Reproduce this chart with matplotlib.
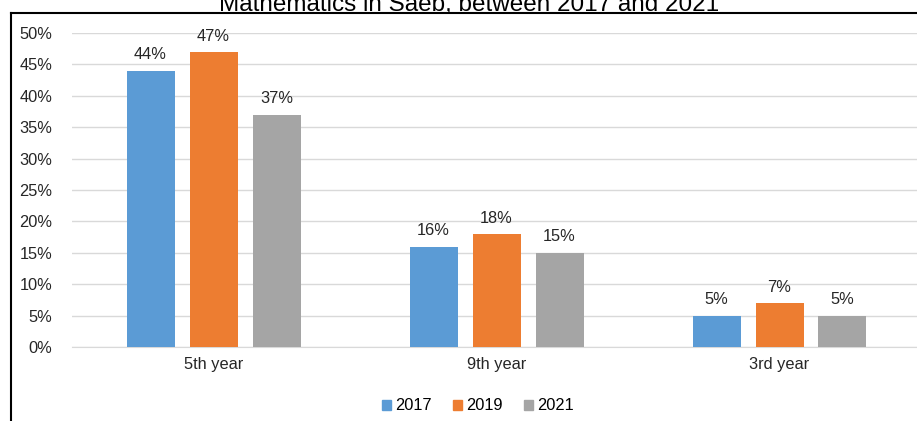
import matplotlib
matplotlib.use("Agg")
import matplotlib.pyplot as plt
from matplotlib.lines import Line2D
from matplotlib.patches import Patch
import numpy as np

plt.rcParams['font.family'] = ['Liberation Sans', 'DejaVu Sans']

categories = ["5th year", "9th year", "3rd year"]
years = ["2017", "2019", "2021"]
values = {
    "2017": [44, 16, 5],
    "2019": [47, 18, 7],
    "2021": [37, 15, 5],
}
colors = ["#5B9BD5", "#ED7D31", "#A5A5A5"]
yticks = [0, 5, 10, 15, 20, 25, 30, 35, 40, 45, 50]

W, H = 917, 421
fig = plt.figure(figsize=(W / 100, H / 100), dpi=100)
ax = fig.add_axes([72 / W, 1 - 347 / H, 1 - 72 / W, (347 - 33) / H])

x = np.arange(len(categories))
step = 63 / 283
width = 48 / 283
text_col = "#262626"
fs = 11.8
for i, (yr, c) in enumerate(zip(years, colors)):
    vals = values[yr]
    pos = x + (i - 1) * step
    ax.bar(pos, vals, width=width, color=c, zorder=3, label=yr)
    for p, v in zip(pos, vals):
        ax.annotate(f"{v}%", (p, v), xytext=(0, 6), textcoords="offset points",
                    ha="center", va="bottom", fontsize=fs, color=text_col)

ax.set_ylim(0, 50)
ax.set_xlim(-0.5, (917 - 213.5) / 283)
ax.set_yticks(yticks)
ax.set_yticklabels([f"{t}%" for t in yticks])
ax.set_xticks(x)
ax.set_xticklabels(categories)
ax.tick_params(axis="both", length=0, labelsize=fs, colors=text_col)
ax.tick_params(axis="x", pad=7)
ax.tick_params(axis="y", pad=14)
ax.grid(axis="y", color="#d9d9d9", linewidth=1, zorder=0)
for s in ["top", "right", "left"]:
    ax.spines[s].set_visible(False)
ax.spines["bottom"].set_color("#d9d9d9")

handles = [Patch(color=c, label=yr) for yr, c in zip(years, colors)]
fig.legend(handles=handles, loc="center", bbox_to_anchor=(478 / W, 1 - 406 / H),
           ncol=3, frameon=False, fontsize=fs, handlelength=0.55, handleheight=0.55,
           handletextpad=0.25, columnspacing=1.3)

fig.text(469 / W, 1 - 11 / H, "Mathematics in Saeb, between 2017 and 2021",
         ha="center", va="baseline", fontsize=17.5, color="#000000")

# outer frame (partially cropped)
fig.add_artist(Line2D([10.5 / W, 10.5 / W], [0, 1 - 13 / H], color="black", lw=1.5,
                      transform=fig.transFigure))
fig.add_artist(Line2D([10.5 / W, 1.0], [1 - 13 / H, 1 - 13 / H], color="black", lw=1.5,
                      transform=fig.transFigure))

fig.savefig("out.png", dpi=100)
